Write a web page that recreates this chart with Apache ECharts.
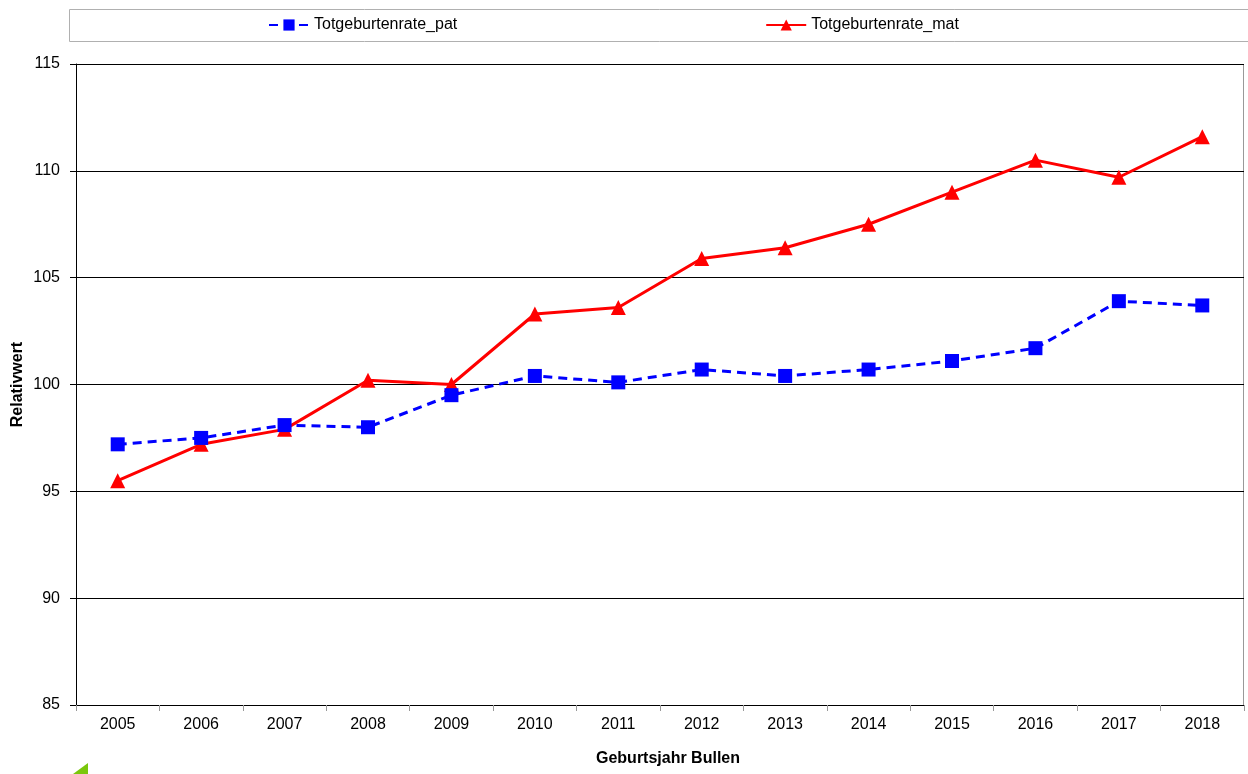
<!DOCTYPE html>
<html>
<head>
<meta charset="utf-8">
<script src="https://cdn.jsdelivr.net/npm/echarts@6/dist/echarts.min.js"></script>
<style>
  html, body { margin: 0; padding: 0; background: #fff; }
  #main { width: 1248px; height: 774px; }
</style>
</head>
<body>
<div id="main"></div>
<script>
// Daten
var jahre = ['2005','2006','2007','2008','2009','2010','2011','2012','2013','2014','2015','2016','2017','2018'];
var patWerte = [97.2, 97.5, 98.1, 98.0, 99.5, 100.4, 100.1, 100.7, 100.4, 100.7, 101.1, 101.7, 103.9, 103.7];
var matWerte = [95.5, 97.2, 97.9, 100.2, 100.0, 103.3, 103.6, 105.9, 106.4, 107.5, 109.0, 110.5, 109.7, 111.6];
var yTicks = [85, 90, 95, 100, 105, 110, 115];

var myChart = echarts.init(document.getElementById('main'));
var font = 'Liberation Sans, Arial, sans-serif';

var options = {
    animation: false,
    textStyle: { fontFamily: font },
    grid: { left: 76, right: 4, top: 64, bottom: 69, outerBoundsMode: 'none', containLabel: false },
    // Legendenrahmen + rechter Rand + grüne Ecke unten
    graphic: [
        {
            type: 'rect', left: 67, top: 7,
            shape: { width: 1190, height: 32 },
            style: { fill: 'none', stroke: '#b0b0b0', lineWidth: 1 }
        },
        {
            type: 'line',
            shape: { x1: 1243.5, y1: 64, x2: 1243.5, y2: 705 },
            style: { stroke: '#999', lineWidth: 1 }
        },
        {
            type: 'polygon',
            shape: { points: [[73, 774], [88, 763], [88, 774]] },
            style: { fill: '#7ac70c' }
        }
    ],
    legend: {
        top: 12,
        left: 263,
        itemGap: 308,
        itemWidth: 40,
        itemHeight: 14,
        textStyle: { fontSize: 16, color: '#000', fontFamily: font },
        data: ['Totgeburtenrate_pat', 'Totgeburtenrate_mat']
    },
    xAxis: {
        type: 'category',
        data: jahre,
        boundaryGap: true,
        name: 'Geburtsjahr Bullen',
        nameLocation: 'middle',
        nameGap: 46,
        nameMoveOverlap: false,
        nameTextStyle: { fontSize: 16, fontWeight: 'bold', color: '#000', padding: [0, 0, 0, 16] },
        axisLine: { lineStyle: { color: '#000', width: 1 } },
        axisTick: { show: true, alignWithLabel: false, length: 6, lineStyle: { color: '#999' } },
        axisLabel: { fontSize: 16, color: '#000', margin: 12 }
    },
    yAxis: {
        type: 'value',
        min: 85,
        max: 115,
        interval: 5,
        name: 'Relativwert',
        nameLocation: 'middle',
        nameGap: 50,
        nameMoveOverlap: false,
        nameRotate: 90,
        nameTextStyle: { fontSize: 16, fontWeight: 'bold', color: '#000' },
        axisLine: { show: true, lineStyle: { color: '#000', width: 1 } },
        axisTick: { show: true, length: 6, lineStyle: { color: '#000' } },
        axisLabel: {
            fontSize: 16, color: '#000', margin: 16,
            formatter: function (v) { return yTicks.indexOf(v) >= 0 ? String(v) : ''; }
        },
        splitLine: { show: true, lineStyle: { color: '#000', width: 1 } }
    },
    series: [
        {
            name: 'Totgeburtenrate_pat',
            type: 'line',
            data: patWerte,
            symbol: 'rect',
            symbolSize: 14,
            itemStyle: { color: '#0000ff' },
            lineStyle: { color: '#0000ff', width: 3, type: [9, 6] },
            z: 3
        },
        {
            name: 'Totgeburtenrate_mat',
            type: 'line',
            data: matWerte,
            symbol: 'triangle',
            symbolSize: 15,
            itemStyle: { color: '#ff0000' },
            lineStyle: { color: '#ff0000', width: 3 },
            z: 2
        }
    ]
};

myChart.setOption(options);
</script>
</body>
</html>
